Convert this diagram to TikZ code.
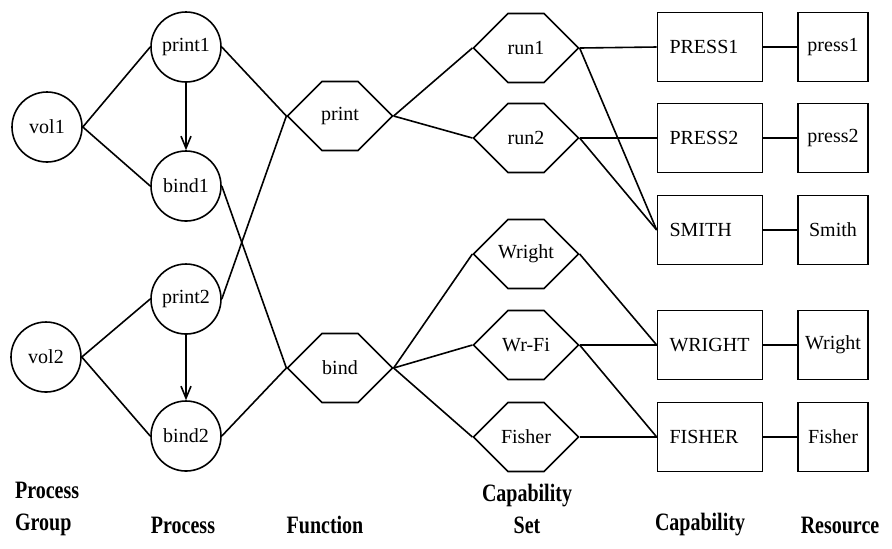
\documentclass[tikz,border=0pt]{standalone}
\usepackage{fontspec}
\setmainfont{Liberation Serif}
\newfontfamily\condfont[FakeStretch=0.8]{Liberation Serif}
\usetikzlibrary{shapes}
\usetikzlibrary{shapes.symbols}
\usetikzlibrary{arrows.meta}
\tikzset{
    procnode/.style = {circle, thick, draw=black, minimum size=35pt, inner sep=0pt, font=\fontsize{10}{12}\selectfont},
    funcnode/.style = {signal, signal to=west and east, signal pointer angle=90, thick, draw=black, minimum width=52.5pt, minimum height=34.5pt, inner xsep=-12pt, inner ysep=0pt, font=\fontsize{10}{12}\selectfont},
    capnode/.style = {rectangle, thick, draw=black, text width=40.5pt, inner xsep=6pt, inner ysep=0pt, minimum height=34.5pt, align=left, font=\fontsize{10}{12}\selectfont},
    resnode/.style = {rectangle, thick, draw=black, minimum width=35pt, minimum height=34.5pt, inner sep=0pt, font=\fontsize{10}{12}\selectfont},
    edgen/.style = {thick},
    edgea/.style = {-{Straight Barb[length=6pt,width=5pt]},thick},
    colhead/.style = {align=center, font=\condfont\bfseries\fontsize{12.5}{16}\selectfont}
}
\begin{document}
\begin{tikzpicture}[x=0.5pt,y=-0.5pt]
\path[use as bounding box] (0,0) rectangle (892,548);
%
\node[procnode] at (47,127) (vol1) {vol1};
\node[procnode] at (46,357) (vol2) {vol2};
\node[procnode] at (186,47) (print1) {print1};
\node[procnode] at (186,186) (bind1) {bind1};
\node[procnode] at (186,299) (print2) {print2};
\node[procnode] at (186,436) (bind2) {bind2};
%
\node[funcnode] at (340,116) (print) {print};
\node[funcnode] at (340,368) (bind) {bind};
%
\node[funcnode] at (526,48) (run1) {run1};
\node[funcnode] at (526,138) (run2) {run2};
\node[funcnode] at (526,254) (wrightset) {Wright};
\node[funcnode] at (526,345) (wrfi) {Wr-Fi};
\node[funcnode] at (526,437) (fisherset) {Fisher};
%
\node[capnode] at (710,47) (press1cap) {PRESS1};
\node[capnode] at (710,138) (press2cap) {PRESS2};
\node[capnode] at (710,230) (smithcap) {SMITH};
\node[capnode] at (710,345) (wrightcap) {WRIGHT};
\node[capnode] at (710,437) (fishercap) {FISHER};
%
\node[resnode] at (833,47) (press1res) {press1};
\node[resnode] at (833,138) (press2res) {press2};
\node[resnode] at (833,230) (smithres) {Smith};
\node[resnode] at (833,345) (wrightres) {Wright};
\node[resnode] at (833,437) (fisherres) {Fisher};
%
\draw[edgen] (vol1.east) -- (print1.west);
\draw[edgen] (vol1.east) -- (bind1.west);
\draw[edgen] (vol2.east) -- (print2.west);
\draw[edgen] (vol2.east) -- (bind2.west);
\draw[edgea] (print1) -- (bind1);
\draw[edgea] (print2) -- (bind2);
\draw[edgen] (print1.east) -- (print.west);
\draw[edgen] (print2.east) -- (print.west);
\draw[edgen] (bind1.east) -- (bind.west);
\draw[edgen] (bind2.east) -- (bind.west);
%
\draw[edgen] (print.east) -- (run1.west);
\draw[edgen] (print.east) -- (run2.west);
\draw[edgen] (bind.east) -- (wrightset.west);
\draw[edgen] (bind.east) -- (wrfi.west);
\draw[edgen] (bind.east) -- (fisherset.west);
%
\draw[edgen] (run1.east) -- (press1cap.west);
\draw[edgen] (run1.east) -- (smithcap.west);
\draw[edgen] (run2.east) -- (press2cap.west);
\draw[edgen] (run2.east) -- (smithcap.west);
\draw[edgen] (wrightset.east) -- (wrightcap.west);
\draw[edgen] (wrfi.east) -- (wrightcap.west);
\draw[edgen] (wrfi.east) -- (fishercap.west);
\draw[edgen] (fisherset.east) -- (fishercap.west);
%
\draw[edgen] (press1cap) -- (press1res);
\draw[edgen] (press2cap) -- (press2res);
\draw[edgen] (smithcap) -- (smithres);
\draw[edgen] (wrightcap) -- (wrightres);
\draw[edgen] (fishercap) -- (fisherres);
%
\node[colhead,align=left,anchor=west] at (8,509) (hgroup) {Process\\Group};
\node[colhead] at (183,525) (hproc) {Process};
\node[colhead] at (325,525) (hfunc) {Function};
\node[colhead] at (527,509) (hset) {Capability\\Set};
\node[colhead] at (700,525) (hcap) {Capability};
\node[colhead] at (840,525) (hres) {Resource};

\end{tikzpicture}
\end{document}
